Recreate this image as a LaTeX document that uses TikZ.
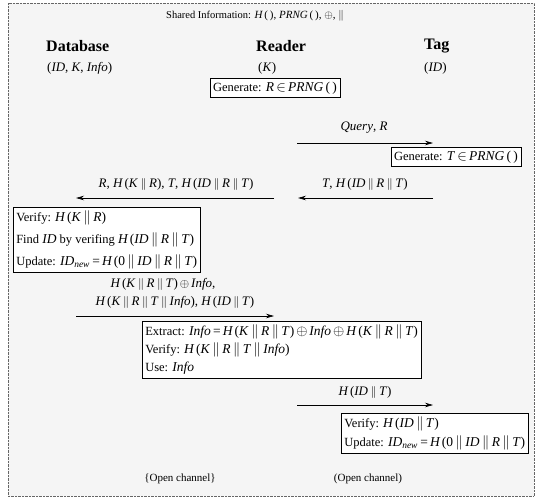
\documentclass[tikz,border=0pt]{standalone}
\usepackage{fontspec}
\setmainfont{Liberation Serif}
\usetikzlibrary{arrows.meta}
\newcommand\M[1]{{\fontsize{13.5}{15}\selectfont#1}}
\newcommand\vv[1]{\textit{#1}}
\newcommand\cat{\hspace{2.5pt}$\|$\hspace{2.5pt}}
\newcommand\xo{\hspace{2pt}$\oplus$\hspace{2pt}}
\newcommand\HH{\textit{H}\hspace{1.5pt}}
\newcommand\IDnew{\vv{ID}\textsubscript{\vv{new}}}
\begin{document}
\begin{tikzpicture}[x=1pt,y=-1pt,
  frame/.style={draw=black!60,densely dotted,fill=black!4},
  txt/.style={inner sep=1pt,font=\fontsize{13}{15}\selectfont},
  plain/.style={inner sep=1pt,font=\fontsize{11}{13}\selectfont},
  hdr/.style={inner sep=1pt,anchor=west,font=\fontsize{16}{18}\selectfont\bfseries},
  col/.style={inner sep=1pt,anchor=west,font=\fontsize{13}{15}\selectfont},
  msgbox/.style={draw,line width=0.6pt,inner xsep=3pt,inner ysep=3.5pt,align=left,fill=white,font=\fontsize{12.5}{20}\selectfont},
  arr/.style={line width=0.7pt,-{Stealth[length=8pt,width=4.5pt]}}]
\useasboundingbox (0,0) rectangle (538,499);
\draw[frame] (8,3) rectangle (534,496);

\node[plain,font=\fontsize{10.5}{12}\selectfont] (shared) at (255,16) {Shared Information: {\fontsize{11}{13}\selectfont\HH(\,), \vv{PRNG}\,(\,), $\oplus$, $\|$}};

\node[hdr] (db) at (45,46) {Database};
\node[hdr] (rd) at (255,46) {Reader};
\node[hdr] (tg) at (423,46) {Tag};

\node[col] (dbk) at (46,68) {(\vv{ID}, \vv{K}, \vv{Info})};
\node[col] (rdk) at (257,68) {(\vv{K})};
\node[col] (tgk) at (423,68) {(\vv{ID})};

\node[msgbox] (genR) at (275,88) {Generate: \M{\vv{R}\,$\in$\,\vv{PRNG}\,(\,)}};

\node[txt] (q) at (364,128) {\vv{Query}, \vv{R}};
\coordinate (a1s) at (297,143);
\coordinate (a1e) at (433,143);
\draw[arr] (a1s) -- (a1e);

\node[msgbox] (genT) at (456,157) {Generate: \M{\vv{T}\,$\in$\,\vv{PRNG}\,(\,)}};

\node[txt] (m1) at (365,184) {\vv{T}, \HH(\vv{ID}\cat\vv{R}\cat\vv{T})};
\coordinate (a2s) at (433,198);
\coordinate (a2e) at (298,198);
\draw[arr] (a2s) -- (a2e);

\node[txt] (m2) at (176,184) {\vv{R}, \HH(\vv{K}\cat\vv{R}), \vv{T}, \HH(\vv{ID}\cat\vv{R}\cat\vv{T})};
\coordinate (a3s) at (274,198);
\coordinate (a3e) at (76,198);
\draw[arr] (a3s) -- (a3e);

\node[msgbox,anchor=north west,font=\fontsize{12.5}{22}\selectfont] (dbbox) at (13,207)
 {Verify: \M{\HH(\vv{K}\cat\vv{R})}\\
  Find \M{\vv{ID}} by verifing \M{\HH(\vv{ID}\cat\vv{R}\cat\vv{T})}\\
  Update: \M{\IDnew\,=\,\HH(0\cat\vv{ID}\cat\vv{R}\cat\vv{T})}};

\node[txt] (m3a) at (163,284) {\HH(\vv{K}\cat\vv{R}\cat\vv{T})\xo\vv{Info},};
\node[txt] (m3b) at (175,302) {\HH(\vv{K}\cat\vv{R}\cat\vv{T}\cat\vv{Info}), \HH(\vv{ID}\cat\vv{T})};
\coordinate (a4s) at (76,316);
\coordinate (a4e) at (274,316);
\draw[arr] (a4s) -- (a4e);

\node[msgbox,anchor=north west,font=\fontsize{12.5}{18}\selectfont] (ext) at (142,321)
 {Extract: \M{\vv{Info}\,=\,\HH(\vv{K}\cat\vv{R}\cat\vv{T})\xo\vv{Info}\xo\HH(\vv{K}\cat\vv{R}\cat\vv{T})}\\
  Verify: \M{\HH(\vv{K}\cat\vv{R}\cat\vv{T}\cat\vv{Info})}\\
  Use: \M{\vv{Info}}};

\node[txt] (m4) at (365,392) {\HH(\vv{ID}\cat\vv{T})};
\coordinate (a5s) at (297,405);
\coordinate (a5e) at (433,405);
\draw[arr] (a5s) -- (a5e);

\node[msgbox,anchor=north west,font=\fontsize{12.5}{19}\selectfont] (ver) at (341,413)
 {Verify: \M{\HH(\vv{ID}\cat\vv{T})}\\
  Update: \M{\IDnew\,=\,\HH(0\cat\vv{ID}\cat\vv{R}\cat\vv{T})}};

\node[plain] (oc1) at (180,479) {\{Open channel\}};
\node[plain] (oc2) at (368,479) {(Open channel)};
\end{tikzpicture}
\end{document}
